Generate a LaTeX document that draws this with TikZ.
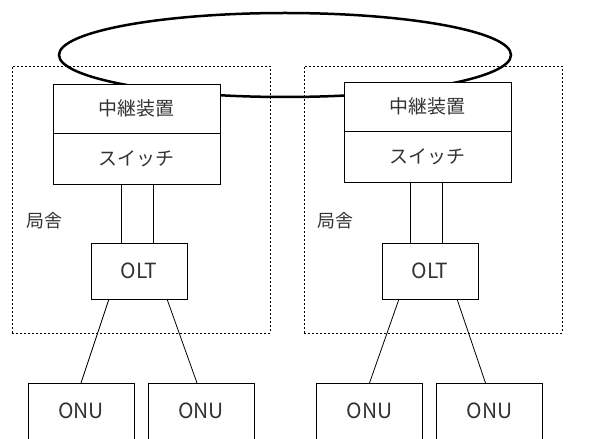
\documentclass[tikz,border=0pt]{standalone}
\usepackage{fontspec}
\setmainfont{Noto Sans CJK JP}
\usetikzlibrary{positioning}

\begin{document}
\begin{tikzpicture}[x=1bp, y=-1bp,
    node distance = 0bp and 14bp,% stacked boxes touch
       box/.style = {draw, fill=white, line width=0.8bp, outer sep=0pt,
                     minimum width=167bp, minimum height=50bp, text=black!80,
                     font=\fontsize{19}{22}\selectfont},% nodes style
      unit/.style = {box, minimum width=96bp, minimum height=56bp,
                     font=\fontsize{21}{24}\selectfont},
      site/.style = {draw, line width=0.8bp, dash pattern=on 2bp off 2bp,
                     minimum width=258bp, minimum height=267bp},
      ring/.style = {line width=2.5bp}
    ]
    \useasboundingbox (0,0) rectangle (612,439);
    % offices
    \node (siteL) [site] at (141,199.5) {};
    \node (siteR) [site] at (433,199.5) {};
    \node (nameL) [text=black!80, font=\fontsize{18}{21}\selectfont] at (44.5,221) {局舎};
    \node (nameR) [text=black!80, font=\fontsize{18}{21}\selectfont] at (335,221) {局舎};
    % ring between the relays
    \draw[ring] (285,55) ellipse [x radius=226, y radius=42];
    \node (relayL) [box, minimum height=49bp] at (136.5,108.5) {中継装置};
    \node (switchL) [box, minimum height=51bp, below=of relayL] {スイッチ};
    \node (relayR) [box, minimum height=49bp] at (427.5,106.5) {中継装置};
    \node (switchR) [box, minimum height=51bp, below=of relayR] {スイッチ};
    \node (oltL) [unit] at (139,271) {OLT};
    \node (oltR) [unit] at (430,271) {OLT};
    \node (onuL1) [unit, minimum width=106bp] at (81,411) {ONU};
    \node (onuL2) [unit, minimum width=106bp] at (201,411) {ONU};
    \node (onuR1) [unit, minimum width=106bp] at (369.5,411) {ONU};
    \node (onuR2) [unit, minimum width=106bp] at (489.5,411) {ONU};
    \draw[line width=0.8bp] ([xshift=-15bp]switchL.south) -- ([xshift=-15bp]switchL.south |- oltL.north);
    \draw[line width=0.8bp] ([xshift=17bp]switchL.south) -- ([xshift=17bp]switchL.south |- oltL.north);
    \draw[line width=0.8bp] ([xshift=-17bp]switchR.south) -- ([xshift=-17bp]switchR.south |- oltR.north);
    \draw[line width=0.8bp] ([xshift=15bp]switchR.south) -- ([xshift=15bp]switchR.south |- oltR.north);
    \draw[line width=0.8bp] ([xshift=-30bp]oltL.south) -- (onuL1.north);
    \draw[line width=0.8bp] ([xshift=28bp]oltL.south) -- ([xshift=-4bp]onuL2.north);
    \draw[line width=0.8bp] ([xshift=-31bp]oltR.south) -- (onuR1.north);
    \draw[line width=0.8bp] ([xshift=27bp]oltR.south) -- ([xshift=-4bp]onuR2.north);
\end{tikzpicture}
\end{document}
